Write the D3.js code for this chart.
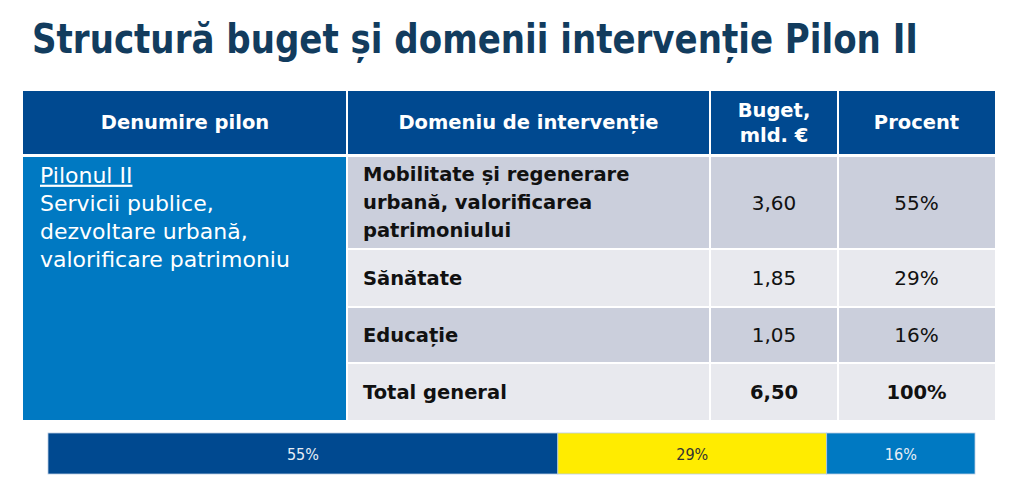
<!DOCTYPE html>
<html><head><meta charset="utf-8">
<script src="https://cdn.jsdelivr.net/npm/d3@7"></script>
<style>html,body{margin:0;padding:0;background:#fff;overflow:hidden}</style>
</head><body><svg id="c" width="1023" height="483"></svg>
<script>
const title = "Structură buget și domenii intervenție Pilon II";
const headers = ["Denumire pilon", "Domeniu de intervenție", ["Buget,", "mld. €"], "Procent"];
const pilonName = "Pilonul II";
const pilonDesc = ["Servicii publice,", "dezvoltare urbană,", "valorificare patrimoniu"];
const domains = [["Mobilitate și regenerare", "urbană, valorificarea", "patrimoniului"], ["Sănătate"], ["Educație"]];
const budgets = [3.60, 1.85, 1.05];
const percents = [55, 29, 16];
const totalLabel = "Total general";
const totalBudget = 6.50;
const totalPercent = 100;

const svg = d3.select("#c");
const fmt = v => d3.format(".2f")(v).replace(".", ",");
const CFONT = "'DejaVu Sans Condensed','DejaVu Sans',sans-serif";
const FONT = "'DejaVu Sans',Verdana,sans-serif";
const NFONT = "'Liberation Sans Narrow','DejaVu Sans Condensed',sans-serif";

// title
svg.append("text").attr("x", 32).attr("y", 53)
  .attr("font-family", CFONT).attr("font-weight", "bold").attr("font-size", 41)
  .attr("fill", "#123C5E").attr("textLength", 886).attr("lengthAdjust", "spacingAndGlyphs")
  .text(title);

// table geometry
const colX = [23, 347, 710, 838, 995];
const headTop = 91, headBot = 154;
const rowEdges = [157, 249, 307, 363, 420];

// header
headers.forEach((h, i) => {
  svg.append("rect").attr("x", colX[i] + (i ? 1 : 0)).attr("y", headTop)
    .attr("width", colX[i+1] - colX[i] - (i ? 1 : 0) - (i < 3 ? 1 : 0)).attr("height", headBot - headTop)
    .attr("fill", "#004990");
  const cx = (colX[i] + colX[i+1]) / 2;
  const lines = Array.isArray(h) ? h : [h];
  lines.forEach((l, j) => {
    svg.append("text").attr("x", cx).attr("y", (headTop + headBot) / 2 + (j - (lines.length - 1) / 2) * 25)
      .attr("dy", "0.35em").attr("text-anchor", "middle")
      .attr("font-family", FONT).attr("font-size", 19.5).attr("font-weight", "bold").attr("fill", "#fff").text(l);
  });
});

// left pilon cell
svg.append("rect").attr("x", colX[0]).attr("y", rowEdges[0]).attr("width", colX[1] - colX[0] - 1)
  .attr("height", rowEdges[4] - rowEdges[0]).attr("fill", "#0079C2");
const pl = [pilonName, ...pilonDesc];
pl.forEach((l, j) => {
  svg.append("text").attr("x", 40).attr("y", 175 + j * 28).attr("dy", "0.35em")
    .attr("font-family", FONT).attr("font-size", 22).attr("fill", "#fff")
    .attr("text-decoration", j === 0 ? "underline" : null).text(l);
});

// body rows
const rows = domains.map((d, i) => ({lines: d, b: fmt(budgets[i]), p: percents[i] + "%", bold: false}));
rows.push({lines: [totalLabel], b: fmt(totalBudget), p: totalPercent + "%", bold: true});
const fills = ["#CBCFDC", "#E8E9EE", "#CBCFDC", "#E8E9EE"];
rows.forEach((r, i) => {
  const y0 = rowEdges[i] + (i ? 1 : 0), y1 = rowEdges[i+1] - (i < 3 ? 1 : 0);
  const cy = (y0 + y1) / 2;
  for (let c = 1; c < 4; c++) {
    svg.append("rect").attr("x", colX[c] + 1).attr("y", y0)
      .attr("width", colX[c+1] - colX[c] - 1 - (c < 3 ? 1 : 0)).attr("height", y1 - y0).attr("fill", fills[i]);
  }
  r.lines.forEach((l, j) => {
    svg.append("text").attr("x", 363).attr("y", cy + (j - (r.lines.length - 1) / 2) * 28).attr("dy", "0.35em")
      .attr("font-family", FONT).attr("font-size", 19.5).attr("font-weight", "bold").attr("fill", "#111").text(l);
  });
  [[r.b, (colX[2] + colX[3]) / 2], [r.p, (colX[3] + colX[4]) / 2]].forEach(([t, cx]) => {
    svg.append("text").attr("x", cx).attr("y", cy).attr("dy", "0.35em").attr("text-anchor", "middle")
      .attr("font-family", FONT).attr("font-size", r.bold ? 19.5 : 20).attr("font-weight", r.bold ? "bold" : "normal")
      .attr("fill", "#111").text(t);
  });
});

// stacked bar
const x = d3.scaleLinear().domain([0, d3.sum(percents)]).range([48, 975]);
const barColors = ["#004990", "#FFEC00", "#0079C2"];
const textColors = ["#E8EEF6", "#333", "#E8EEF6"];
let acc = 0;
const segs = percents.map((p, i) => { const s = {p, i, x0: acc, x1: acc + p}; acc += p; return s; });
const g = svg.append("g");
g.selectAll("rect").data(segs).join("rect")
  .attr("x", d => x(d.x0)).attr("y", 433).attr("width", d => x(d.x1) - x(d.x0)).attr("height", 41)
  .attr("fill", d => barColors[d.i]).attr("stroke", "#B8CCE4").attr("stroke-width", 0.8);
g.selectAll("text").data(segs).join("text")
  .attr("x", d => (x(d.x0) + x(d.x1)) / 2).attr("y", 454.5).attr("dy", "0.35em").attr("text-anchor", "middle")
  .attr("font-family", NFONT).attr("font-size", 16).attr("fill", d => textColors[d.i]).text(d => d.p + "%");
</script></body></html>
